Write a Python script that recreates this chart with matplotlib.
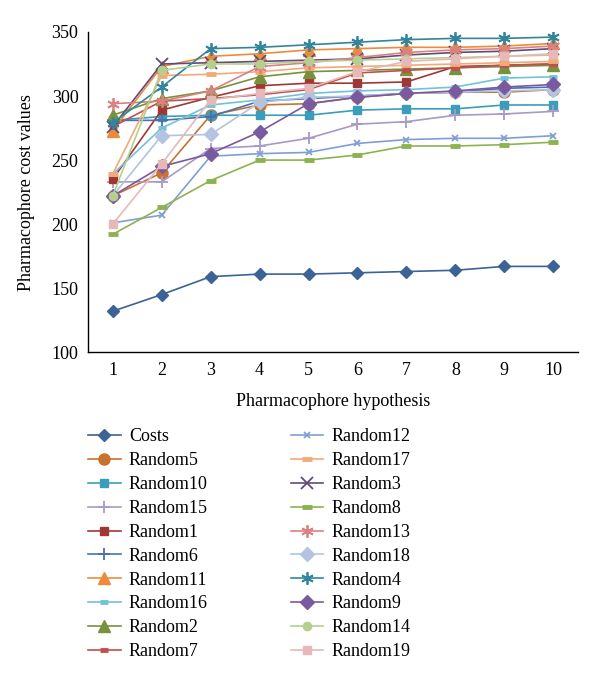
import numpy as np
import matplotlib
matplotlib.use("Agg")
import matplotlib.pyplot as plt

plt.rcParams['font.family'] = ['Liberation Serif', 'DejaVu Serif']

# dados
hipoteses = [1, 2, 3, 4, 5, 6, 7, 8, 9, 10]

costs = [132, 145, 159, 161, 161, 162, 163, 164, 167, 167]
random1 = [235, 289, 299, 308, 310, 310, 311, 323, 324, 325]
random2 = [285, 298, 304, 315, 319, 320, 321, 322, 323, 324]
random3 = [276, 325, 326, 327, 328, 329, 332, 334, 335, 337]
random4 = [279, 307, 337, 338, 340, 342, 344, 345, 345, 346]
random5 = [222, 240, 285, 293, 294, 299, 302, 303, 303, 305]
random6 = [281, 281, 284, 296, 298, 300, 302, 303, 306, 307]
random7 = [276, 296, 298, 301, 305, 318, 320, 322, 324, 325]
random8 = [192, 213, 234, 250, 250, 254, 261, 261, 262, 264]
random9 = [222, 245, 255, 272, 294, 299, 302, 304, 307, 309]
random10 = [281, 284, 285, 285, 285, 289, 290, 290, 293, 293]
random11 = [273, 323, 331, 333, 336, 337, 338, 338, 339, 341]
random12 = [201, 207, 253, 255, 256, 263, 266, 267, 267, 269]
random13 = [294, 296, 304, 323, 326, 330, 334, 336, 337, 339]
random14 = [222, 320, 325, 325, 327, 328, 329, 330, 331, 332]
random15 = [233, 233, 259, 261, 267, 278, 280, 285, 286, 288]
random16 = [239, 275, 293, 297, 302, 304, 305, 307, 314, 315]
random17 = [239, 316, 317, 319, 322, 323, 324, 325, 326, 327]
random18 = [222, 269, 270, 295, 299, 300, 302, 303, 304, 305]
random19 = [200, 247, 297, 302, 306, 319, 327, 329, 331, 333]

# (nome, valores, cor, marcador, tamanho)
series = [
    ("Costs", costs, "#3B6396", "D", 6),
    ("Random5", random5, "#C7722F", "o", 8),
    ("Random10", random10, "#3A9EBA", "s", 6),
    ("Random15", random15, "#A899C6", "+", 9),
    ("Random1", random1, "#9E3836", "s", 6),
    ("Random6", random6, "#4A70AE", "+", 9),
    ("Random11", random11, "#EE8B3A", "^", 8),
    ("Random16", random16, "#72C2DA", "_", 6),
    ("Random2", random2, "#76923C", "^", 8),
    ("Random7", random7, "#C0504D", "_", 6),
    ("Random12", random12, "#7F9FD2", "x", 5),
    ("Random17", random17, "#F4A97A", "_", 7),
    ("Random3", random3, "#604A7B", "x", 8),
    ("Random8", random8, "#8DB350", "_", 7),
    ("Random13", random13, "#D9827F", (6, 2, 0), 9),
    ("Random18", random18, "#B3C3E0", "D", 7),
    ("Random4", random4, "#31859C", (6, 2, 0), 9),
    ("Random9", random9, "#7A5A9E", "D", 7),
    ("Random14", random14, "#B5CF8E", "o", 6),
    ("Random19", random19, "#E6B9B8", "s", 6),
]

fig = plt.figure(figsize=(6, 6.8), dpi=100)
ax = fig.add_axes([0.147, 0.482, 0.816, 0.471])

for nome, vals, cor, mk, ms in series:
    mew = 1.3 if mk in ("+", "x") or isinstance(mk, tuple) else 1
    if mk == "_":
        mew = 3.5
    ax.plot(hipoteses, vals, color=cor, marker=mk, markersize=ms,
            markeredgewidth=mew, linewidth=1.2, label=nome)

ax.set_xlim(0.5, 10.5)
ax.set_ylim(100, 350)
ax.set_xticks(hipoteses)
ax.set_yticks([100, 150, 200, 250, 300, 350])
ax.tick_params(length=0, labelsize=13, pad=7)
ax.spines['top'].set_visible(False)
ax.spines['right'].set_visible(False)
ax.spines['left'].set_linewidth(1)
ax.spines['bottom'].set_linewidth(1)
ax.set_xlabel("Pharmacophore hypothesis", fontsize=13, labelpad=10)
ax.set_ylabel("Pharmacophore cost values", fontsize=13, labelpad=12)

fig.legend(loc="upper left", bbox_to_anchor=(0.147, 0.370), ncol=2,
           frameon=False, fontsize=13, handlelength=1.8, handletextpad=0.45,
           columnspacing=4.6, labelspacing=0.38, borderpad=0, borderaxespad=0)

plt.savefig("out.png", dpi=100)
